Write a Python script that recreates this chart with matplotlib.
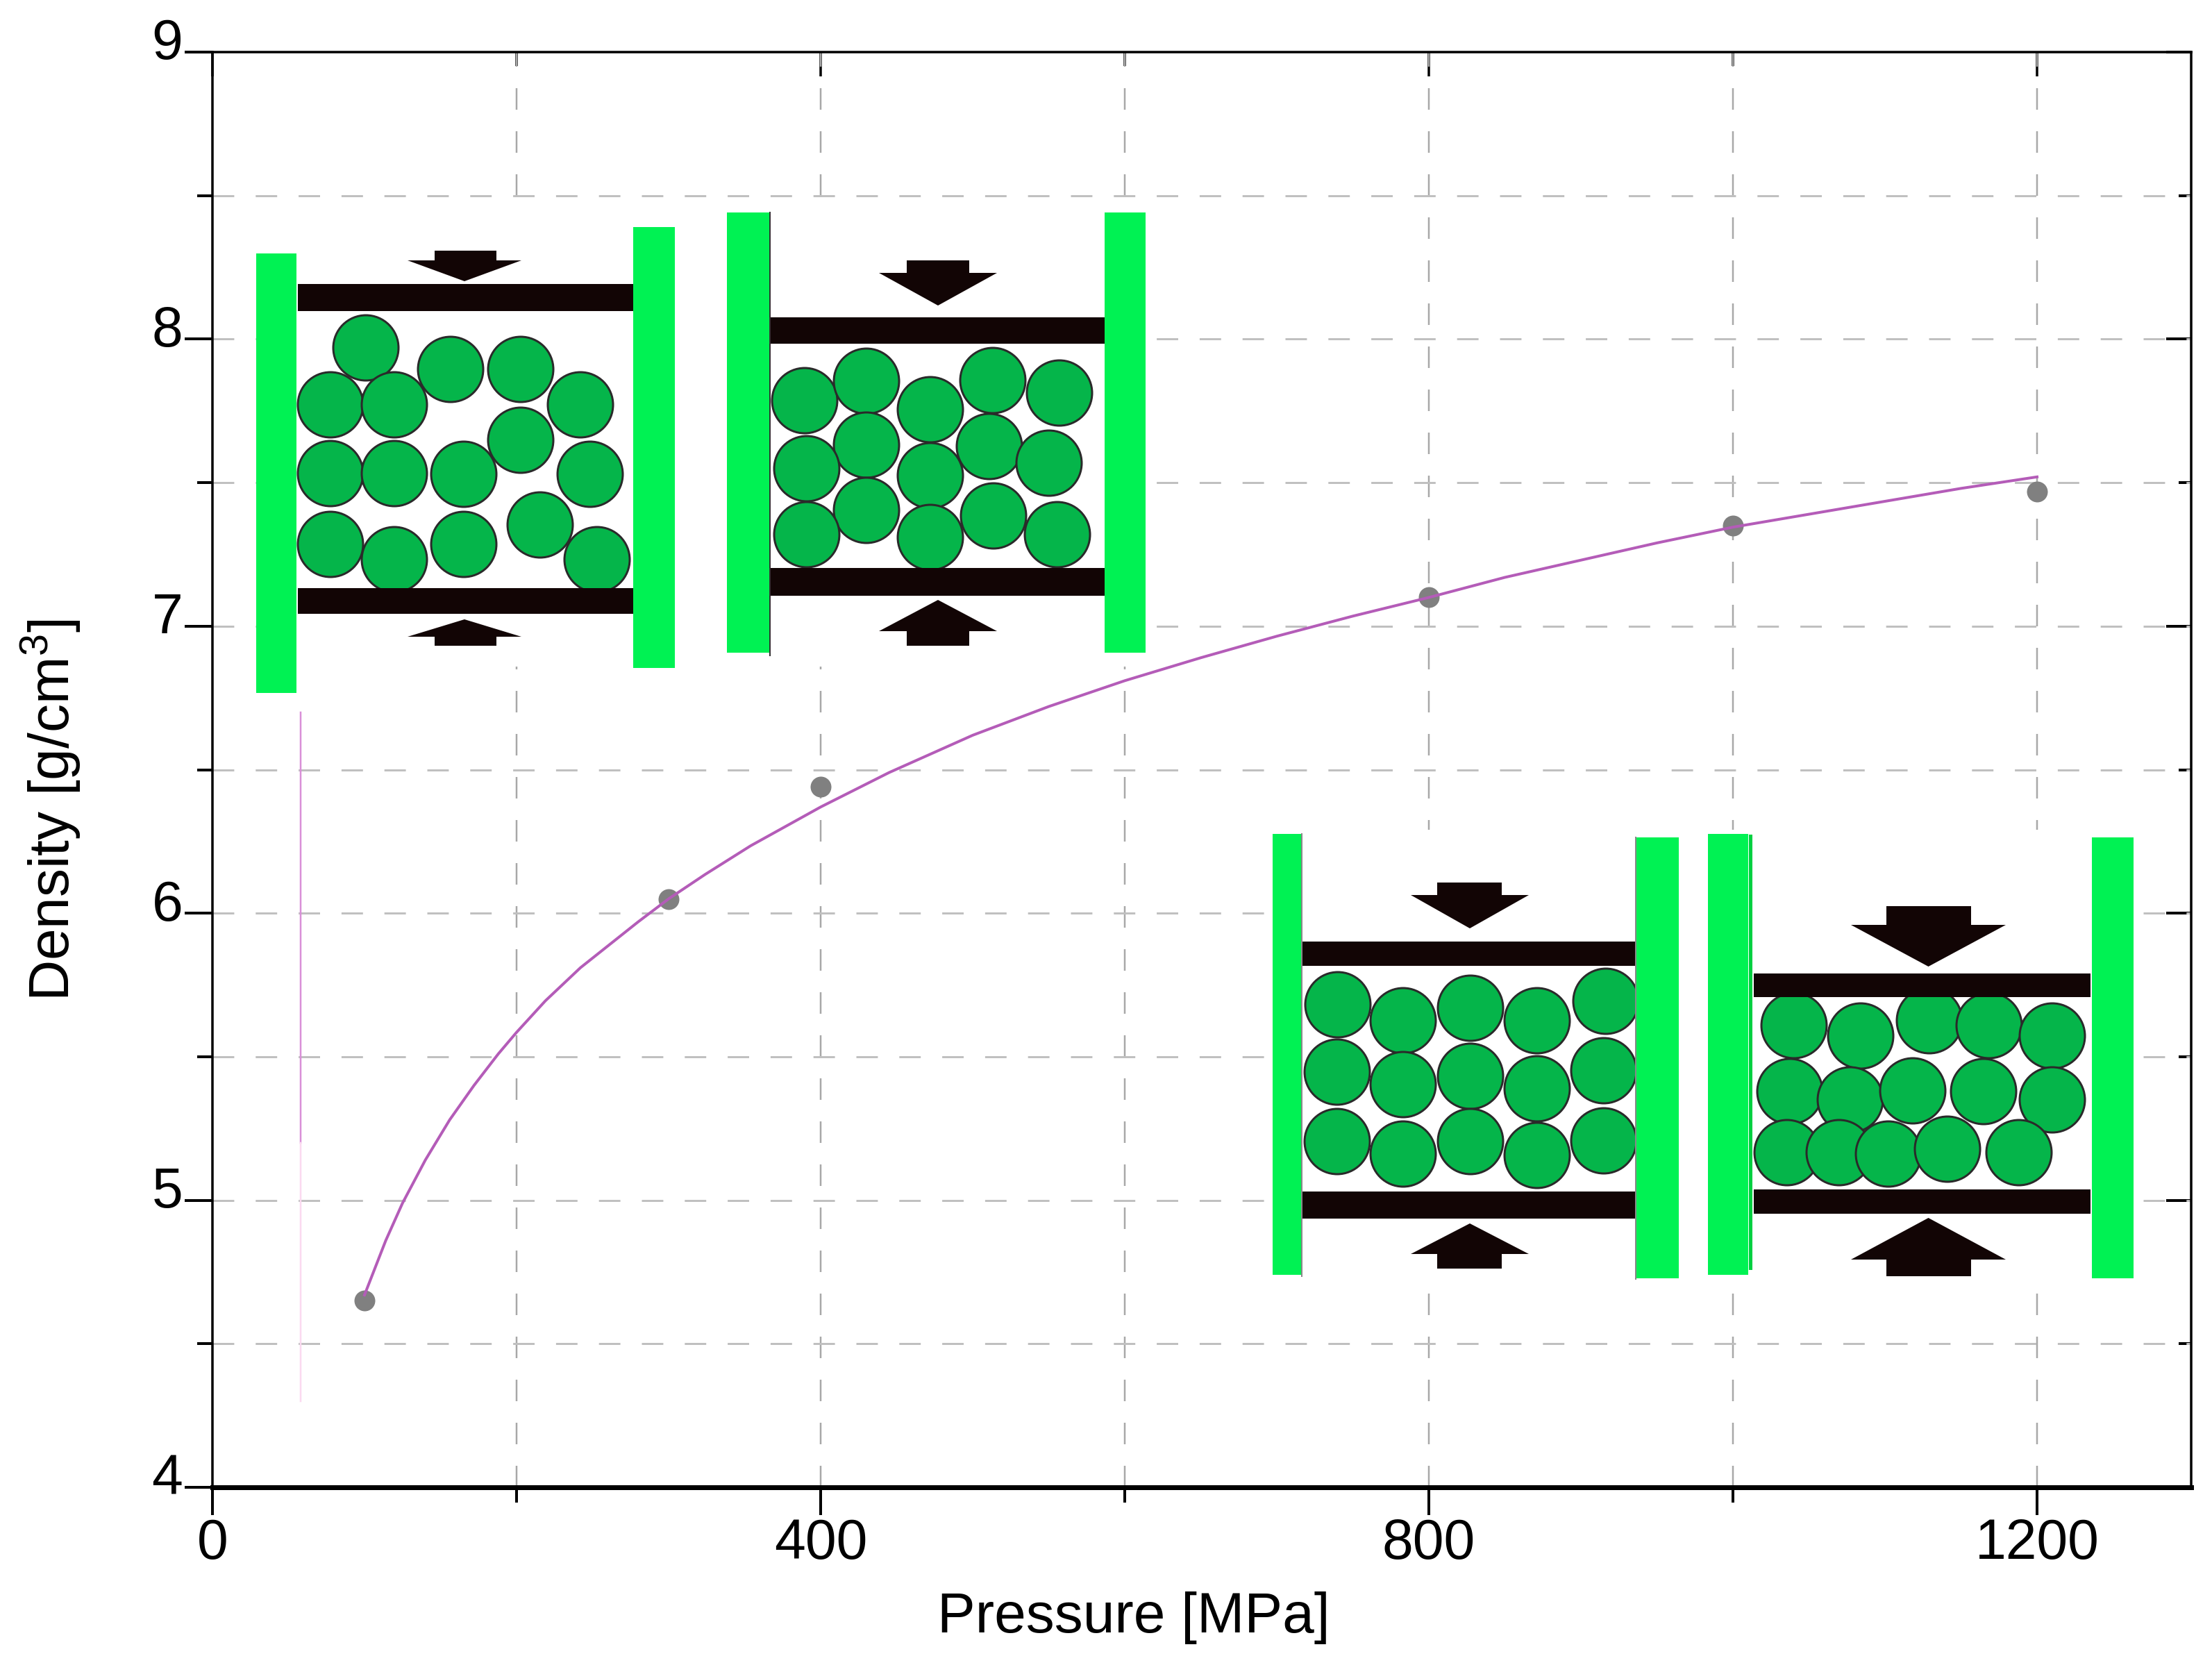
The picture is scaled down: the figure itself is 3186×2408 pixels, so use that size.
import matplotlib
matplotlib.use('Agg')
import matplotlib.pyplot as plt
from matplotlib.patches import Circle, Polygon, Rectangle
from matplotlib.ticker import MultipleLocator
from matplotlib.transforms import ScaledTranslation

plt.rcParams['font.family'] = ['Liberation Sans', 'DejaVu Sans']
plt.rcParams['mathtext.default'] = 'regular'

W, H = 3186, 2408

# measured points
pressure = [100, 300, 400, 800, 1000, 1200]
density = [4.65, 6.05, 6.44, 7.10, 7.35, 7.47]

# fitted curve
curve_p = [100, 114, 125, 140, 156, 172, 188, 200, 219, 242, 261, 280, 300, 324, 354, 400, 445,
           500, 550, 600, 650, 700, 750, 800, 850, 900, 950, 1000, 1050, 1100, 1150, 1200]
curve_d = [4.67, 4.86, 4.99, 5.14, 5.28, 5.40, 5.51, 5.585, 5.695, 5.81, 5.89, 5.97, 6.05, 6.135, 6.235, 6.37, 6.49,
           6.62, 6.72, 6.81, 6.89, 6.965, 7.035, 7.10, 7.17, 7.23, 7.29, 7.345, 7.39, 7.435, 7.48, 7.52]

x_major = [0, 400, 800, 1200]
y_major = [4, 5, 6, 7, 8, 9]

# ball centres of the four schematics, in image pixels
balls_a = [(527, 501), (649, 532), (750, 532), (476, 583), (568, 583), (836, 583), (750, 634), (476, 682),
           (568, 682), (668, 683), (850, 683), (778, 756), (476, 784), (568, 806), (668, 784), (860, 806)]
balls_b = [(1159, 577), (1248, 549), (1340, 590), (1430, 548), (1526, 566), (1248, 641), (1425, 643), (1162, 675),
           (1340, 685), (1511, 667), (1248, 735), (1431, 743), (1162, 770), (1340, 774), (1523, 770)]
balls_c = [(1927, 1447), (2021, 1470), (2118, 1452), (2214, 1470), (2313, 1442),
           (1926, 1544), (2021, 1562), (2118, 1550), (2214, 1568), (2310, 1542),
           (1926, 1644), (2021, 1662), (2118, 1644), (2214, 1664), (2310, 1643)]
balls_d = [(2584, 1477), (2680, 1492), (2779, 1470), (2865, 1477), (2956, 1492),
           (2578, 1572), (2665, 1584), (2755, 1571), (2857, 1572), (2956, 1584),
           (2574, 1660), (2649, 1660), (2720, 1662), (2805, 1655), (2908, 1660)]

# left wall, right wall, plate x range, top plate, bottom plate  (all pixels)
panel_a = dict(lw=(369, 427, 365, 998), rw=(912, 972, 327, 962), px=(429, 912), top=(409, 448), bot=(847, 884),
               shaft=(626, 715), head=(587, 751), up=(361, 375, 405), down=(892, 917, 930), balls=balls_a, thin=[])
panel_b = dict(lw=(1047, 1108, 306, 940), rw=(1591, 1650, 306, 940), px=(1108, 1591), top=(457, 495), bot=(818, 858),
               shaft=(1306, 1396), head=(1266, 1436), up=(375, 393, 440), down=(864, 909, 930), balls=balls_b,
               thin=[(1109, 306, 944, '#333333')])
panel_c = dict(lw=(1833, 1874, 1201, 1836), rw=(2357, 2418, 1206, 1841), px=(1876, 2357), top=(1356, 1391), bot=(1716, 1755),
               shaft=(2070, 2163), head=(2032, 2202), up=(1271, 1289, 1337), down=(1762, 1806, 1827), balls=balls_c,
               thin=[(1875, 1201, 1838, '#888888'), (2356, 1206, 1842, '#888888')])
panel_d = dict(lw=(2460, 2518, 1201, 1836), rw=(3013, 3073, 1206, 1841), px=(2526, 3011), top=(1402, 1436), bot=(1713, 1748),
               shaft=(2717, 2839), head=(2666, 2889), up=(1305, 1332, 1392), down=(1754, 1814, 1838), balls=balls_d,
               thin=[(2521, 1204, 1826, '#00d040')])


def px(v):
    return v * 0.72  # pixels to points at dpi 100


fig = plt.figure(figsize=(W / 100, H / 100), dpi=100)
left, right, top, bottom = 306, 3156, 75, 2142
ax = fig.add_axes([left / W, 1 - bottom / H, (right - left) / W, (bottom - top) / H])
ax.set_xlim(0, (right - left) / 2.19)
ax.set_ylim(4, 9)

# grid
for v in range(200, 1400, 200):
    ax.axvline(v, color='#a8a8a8', lw=px(2.5), dashes=(12.4, 12.4), zorder=1)
for i in range(1, 10):
    ax.axhline(4 + i * 0.5, color='#c0c0c0', lw=px(3), dashes=(10.3, 10.3), zorder=1)

ax.plot(curve_p, curve_d, color='#b45cb8', lw=px(4), zorder=4)
ax.plot(pressure, density, 'o', color='#808080', ms=px(30), mew=0, zorder=3)
# stray line left over in the scan
ax.plot([58, 58], [6.7, 5.2], color='#d98fd8', lw=px(2.5), zorder=2)
ax.plot([58, 58], [5.2, 4.3], color='#fbd9f0', lw=px(2.5), zorder=2)

for s in ['left', 'top', 'right']:
    ax.spines[s].set_linewidth(px(3.5))
ax.spines['bottom'].set_linewidth(px(7))

ax.set_xticks(x_major)
ax.set_yticks(y_major)
ax.xaxis.set_minor_locator(MultipleLocator(200))
ax.yaxis.set_minor_locator(MultipleLocator(0.5))
ax.tick_params(which='major', direction='out', length=px(40), width=px(4), labelsize=58, pad=3)
ax.tick_params(which='minor', direction='out', length=px(22), width=px(4))
ax.tick_params(axis='y', which='major', pad=2)

# nudge y labels upward a little, like the original
for t in ax.get_yticklabels():
    t.set_transform(t.get_transform() + ScaledTranslation(0, 0.19, fig.dpi_scale_trans))

# inward ticks on top and right
sx = ax.secondary_xaxis('top')
sx.set_xticks(x_major)
sx.xaxis.set_minor_locator(MultipleLocator(200))
sx.tick_params(which='major', direction='in', length=px(35), width=px(3.5), labeltop=False)
sx.tick_params(which='minor', direction='in', length=px(20), width=px(3.5))
sy = ax.secondary_yaxis('right')
sy.set_yticks(y_major)
sy.yaxis.set_minor_locator(MultipleLocator(0.5))
sy.tick_params(which='major', direction='in', length=px(36), width=px(4), labelright=False)
sy.tick_params(which='minor', direction='in', length=px(18), width=px(4))
sx.spines['top'].set_visible(False)
sy.spines['right'].set_visible(False)

ax.set_xlabel('Pressure [MPa]', fontsize=59)
ax.set_ylabel('Density [g/cm$^{3}$]', fontsize=59)
ax.xaxis.set_label_coords(0.4656, -0.0726)
ax.yaxis.set_label_coords(-0.0653, 0.4717)

# schematics, drawn in image pixels on an overlay
ov = fig.add_axes([0, 0, 1, 1], zorder=5)
ov.set_xlim(0, W)
ov.set_ylim(H, 0)
ov.axis('off')
ov.patch.set_alpha(0)

ov.add_patch(Rectangle((369, 295), 1295, 665, fc='white', ec='none'))
ov.add_patch(Rectangle((1830, 1195), 1250, 660, fc='white', ec='none'))

GREEN = '#00f253'
BALL = '#05b54a'
DARK = '#120505'

for p in [panel_a, panel_b, panel_c, panel_d]:
    for c in p['balls']:
        ov.add_patch(Circle(c, 47, fc=BALL, ec='#2a2a2a', lw=px(3)))
    for wall in [p['lw'], p['rw']]:
        ov.add_patch(Rectangle((wall[0], wall[2]), wall[1] - wall[0], wall[3] - wall[2], fc=GREEN, ec='none'))
    for tx, ty0, ty1, tc in p['thin']:
        ov.plot([tx, tx], [ty0, ty1], color=tc, lw=px(5 if tc == '#00d040' else 2))
    x0, x1 = p['px']
    for y0, y1 in [p['top'], p['bot']]:
        ov.add_patch(Rectangle((x0, y0), x1 - x0, y1 - y0, fc=DARK, ec='none'))
    s0, s1 = p['shaft']
    h0, h1 = p['head']
    xm = (h0 + h1) / 2
    a, b, c = p['up']
    ov.add_patch(Polygon([(s0, a), (s1, a), (s1, b), (h1, b), (xm, c), (h0, b), (s0, b)], fc=DARK, ec='none'))
    a, b, c = p['down']
    ov.add_patch(Polygon([(xm, a), (h1, b), (s1, b), (s1, c), (s0, c), (s0, b), (h0, b)], fc=DARK, ec='none'))

fig.savefig('out.png', dpi=100)
